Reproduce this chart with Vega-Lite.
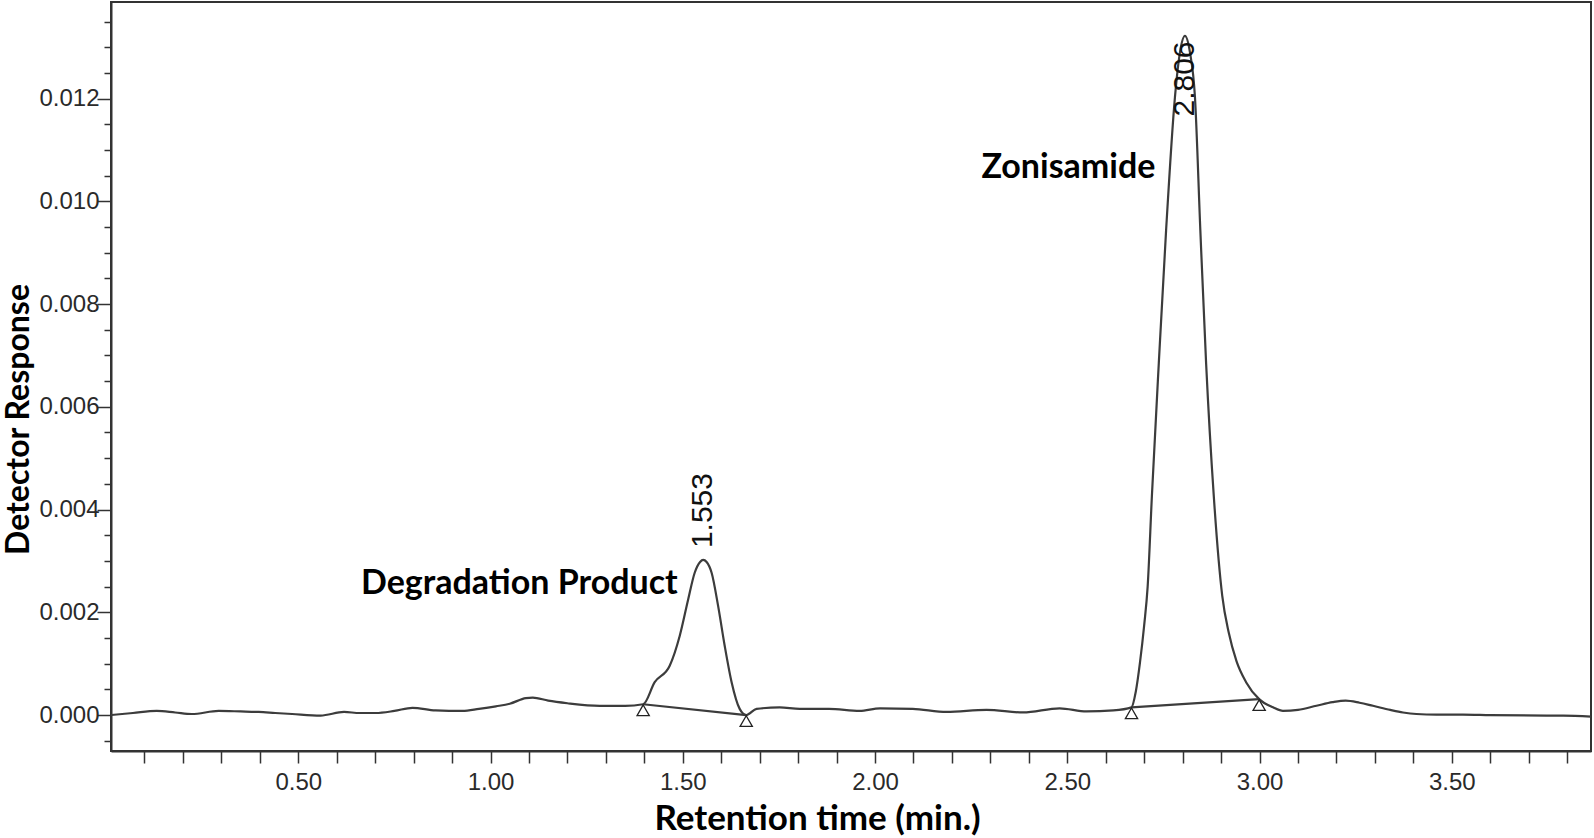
{
  "$schema": "https://vega.github.io/schema/vega-lite/v6.json",
  "width": 1480,
  "height": 749,
  "autosize": {"type": "none"},
  "padding": {"left": 111, "top": 2, "right": 3, "bottom": 87},
  "background": "white",
  "config": {
    "view": {"stroke": "#333333", "strokeWidth": 2},
    "axis": {"domainColor": "#333333", "domainWidth": 2, "tickColor": "#333333", "tickWidth": 1.5, "labelColor": "#2a2a2a", "grid": false}
  },
  "resolve": {"axis": {"x": "independent", "y": "independent"}},
  "datasets": {
    "trace": [
      {"t": 0.013, "v": 0.0, "trace": "signal"},
      {"t": 0.07, "v": 0.00004, "trace": "signal"},
      {"t": 0.132, "v": 0.00008, "trace": "signal"},
      {"t": 0.18, "v": 0.00005, "trace": "signal"},
      {"t": 0.223, "v": 0.00002, "trace": "signal"},
      {"t": 0.293, "v": 0.00008, "trace": "signal"},
      {"t": 0.35, "v": 0.00007, "trace": "signal"},
      {"t": 0.397, "v": 0.00006, "trace": "signal"},
      {"t": 0.44, "v": 0.00004, "trace": "signal"},
      {"t": 0.484, "v": 0.00002, "trace": "signal"},
      {"t": 0.558, "v": -0.00001, "trace": "signal"},
      {"t": 0.619, "v": 0.00006, "trace": "signal"},
      {"t": 0.66, "v": 0.00004, "trace": "signal"},
      {"t": 0.701, "v": 0.00004, "trace": "signal"},
      {"t": 0.75, "v": 0.00008, "trace": "signal"},
      {"t": 0.797, "v": 0.00014, "trace": "signal"},
      {"t": 0.857, "v": 0.00009, "trace": "signal"},
      {"t": 0.927, "v": 0.00008, "trace": "signal"},
      {"t": 0.97, "v": 0.00012, "trace": "signal"},
      {"t": 1.014, "v": 0.00017, "trace": "signal"},
      {"t": 1.05, "v": 0.00022, "trace": "signal"},
      {"t": 1.092, "v": 0.00033, "trace": "signal"},
      {"t": 1.11, "v": 0.00034, "trace": "signal"},
      {"t": 1.15, "v": 0.00028, "trace": "signal"},
      {"t": 1.2, "v": 0.00023, "trace": "signal"},
      {"t": 1.284, "v": 0.00018, "trace": "signal"},
      {"t": 1.35, "v": 0.00018, "trace": "signal"},
      {"t": 1.397, "v": 0.00021, "trace": "signal"},
      {"t": 1.427, "v": 0.00064, "trace": "signal"},
      {"t": 1.466, "v": 0.00096, "trace": "signal"},
      {"t": 1.492, "v": 0.00154, "trace": "signal"},
      {"t": 1.514, "v": 0.00225, "trace": "signal"},
      {"t": 1.531, "v": 0.00277, "trace": "signal"},
      {"t": 1.545, "v": 0.00298, "trace": "signal"},
      {"t": 1.553, "v": 0.00302, "trace": "signal"},
      {"t": 1.562, "v": 0.00298, "trace": "signal"},
      {"t": 1.575, "v": 0.00277, "trace": "signal"},
      {"t": 1.592, "v": 0.00212, "trace": "signal"},
      {"t": 1.609, "v": 0.00135, "trace": "signal"},
      {"t": 1.627, "v": 0.00064, "trace": "signal"},
      {"t": 1.648, "v": 0.00012, "trace": "signal"},
      {"t": 1.665, "v": 0.0, "trace": "signal"},
      {"t": 1.692, "v": 0.00012, "trace": "signal"},
      {"t": 1.752, "v": 0.00015, "trace": "signal"},
      {"t": 1.804, "v": 0.00012, "trace": "signal"},
      {"t": 1.88, "v": 0.00012, "trace": "signal"},
      {"t": 1.96, "v": 0.00008, "trace": "signal"},
      {"t": 2.013, "v": 0.00013, "trace": "signal"},
      {"t": 2.098, "v": 0.00012, "trace": "signal"},
      {"t": 2.186, "v": 0.00006, "trace": "signal"},
      {"t": 2.29, "v": 0.0001, "trace": "signal"},
      {"t": 2.385, "v": 0.00005, "trace": "signal"},
      {"t": 2.48, "v": 0.00013, "trace": "signal"},
      {"t": 2.55, "v": 0.00007, "trace": "signal"},
      {"t": 2.62, "v": 0.00009, "trace": "signal"},
      {"t": 2.667, "v": 0.00015, "trace": "signal"},
      {"t": 2.678, "v": 0.00045, "trace": "signal"},
      {"t": 2.689, "v": 0.00102, "trace": "signal"},
      {"t": 2.7, "v": 0.00175, "trace": "signal"},
      {"t": 2.709, "v": 0.0025, "trace": "signal"},
      {"t": 2.72, "v": 0.00426, "trace": "signal"},
      {"t": 2.738, "v": 0.00685, "trace": "signal"},
      {"t": 2.757, "v": 0.00944, "trace": "signal"},
      {"t": 2.78, "v": 0.01203, "trace": "signal"},
      {"t": 2.793, "v": 0.0129, "trace": "signal"},
      {"t": 2.806, "v": 0.01322, "trace": "signal"},
      {"t": 2.819, "v": 0.0129, "trace": "signal"},
      {"t": 2.832, "v": 0.01203, "trace": "signal"},
      {"t": 2.846, "v": 0.00944, "trace": "signal"},
      {"t": 2.861, "v": 0.00685, "trace": "signal"},
      {"t": 2.881, "v": 0.00426, "trace": "signal"},
      {"t": 2.903, "v": 0.00232, "trace": "signal"},
      {"t": 2.92, "v": 0.0016, "trace": "signal"},
      {"t": 2.94, "v": 0.00105, "trace": "signal"},
      {"t": 2.965, "v": 0.00064, "trace": "signal"},
      {"t": 2.999, "v": 0.00031, "trace": "signal"},
      {"t": 3.035, "v": 0.00015, "trace": "signal"},
      {"t": 3.061, "v": 0.00008, "trace": "signal"},
      {"t": 3.1, "v": 0.0001, "trace": "signal"},
      {"t": 3.148, "v": 0.00018, "trace": "signal"},
      {"t": 3.19, "v": 0.00025, "trace": "signal"},
      {"t": 3.224, "v": 0.00028, "trace": "signal"},
      {"t": 3.26, "v": 0.00024, "trace": "signal"},
      {"t": 3.295, "v": 0.00018, "trace": "signal"},
      {"t": 3.34, "v": 0.0001, "trace": "signal"},
      {"t": 3.373, "v": 0.00005, "trace": "signal"},
      {"t": 3.408, "v": 0.00002, "trace": "signal"},
      {"t": 3.46, "v": 0.00001, "trace": "signal"},
      {"t": 3.529, "v": 0.00001, "trace": "signal"},
      {"t": 3.6, "v": 0.0, "trace": "signal"},
      {"t": 3.746, "v": -0.00001, "trace": "signal"},
      {"t": 3.79, "v": -0.00001, "trace": "signal"},
      {"t": 3.862, "v": -0.00003, "trace": "signal"},
      {"t": 1.397, "v": 0.00021, "trace": "base1"},
      {"t": 1.665, "v": 0.0, "trace": "base1"},
      {"t": 2.667, "v": 0.00015, "trace": "base2"},
      {"t": 2.999, "v": 0.00031, "trace": "base2"}
    ],
    "marks": [
      {"t": 1.397, "v": 0.00021},
      {"t": 1.665, "v": 0.0},
      {"t": 2.667, "v": 0.00015},
      {"t": 2.999, "v": 0.00031}
    ],
    "peaks": [
      {"t": 1.553, "v": 0.00325, "label": "1.553"},
      {"t": 2.806, "v": 0.01165, "label": "2.806"}
    ],
    "names": [
      {"t": 1.075, "v": 0.002545, "label": "Degradation Product"},
      {"t": 2.503, "v": 0.010646, "label": "Zonisamide"}
    ]
  },
  "layer": [
    {
      "data": {"name": "trace"},
      "mark": {"type": "line", "color": "#3c3c3c", "strokeWidth": 2.2, "interpolate": "monotone"},
      "encoding": {
        "x": {
          "field": "t", "type": "quantitative",
          "scale": {"domain": [0.013, 3.862], "nice": false, "zero": false},
          "axis": {
            "orient": "bottom",
            "title": "Retention time (min.)",
            "values": [0.5, 1.0, 1.5, 2.0, 2.5, 3.0, 3.5],
            "format": ".2f",
            "labelOverlap": false,
            "tickSize": 12,
            "labelPadding": 7,
            "labelFont": "Liberation Sans",
            "labelFontSize": 24,
            "labelFlush": false,
            "titleFont": "Lato",
            "titleFontWeight": "bold",
            "titleFontSize": 35,
            "titleColor": "#000000",
            "titleX": 706,
            "titleY": 67,
            "titleBaseline": "middle",
            "titleAlign": "center"
          }
        },
        "y": {
          "field": "v", "type": "quantitative",
          "scale": {"domain": [-0.0007, 0.01388], "nice": false, "zero": false},
          "axis": {
            "orient": "left",
            "title": "Detector Response",
            "values": [0, 0.002, 0.004, 0.006, 0.008, 0.01, 0.012],
            "format": ".3f",
            "labelOverlap": false,
            "tickSize": 14,
            "labelPadding": -2,
            "labelFont": "Liberation Sans",
            "labelFontSize": 24,
            "labelFlush": false,
            "titleFont": "Lato",
            "titleFontWeight": "bold",
            "titleFontSize": 32,
            "titleColor": "#000000",
            "titleAngle": 270,
            "titleX": -93,
            "titleY": 417,
            "titleBaseline": "middle",
            "titleAlign": "center"
          }
        },
        "detail": {"field": "trace"}
      }
    },
    {
      "data": {"name": "marks"},
      "mark": {"type": "point", "shape": "triangle-up", "filled": false, "stroke": "#222222", "strokeWidth": 1.3, "size": 150, "yOffset": 6, "opacity": 1},
      "encoding": {
        "x": {
          "field": "t", "type": "quantitative",
          "axis": {
            "orient": "bottom",
            "title": null,
            "labels": false,
            "domain": false,
            "tickSize": 12,
            "values": [0.1,0.2,0.3,0.4,0.6,0.7,0.8,0.9,1.1,1.2,1.3,1.4,1.6,1.7,1.8,1.9,2.1,2.2,2.3,2.4,2.6,2.7,2.8,2.9,3.1,3.2,3.3,3.4,3.6,3.7,3.8]
          }
        },
        "y": {
          "field": "v", "type": "quantitative",
          "axis": {
            "orient": "left",
            "title": null,
            "labels": false,
            "domain": false,
            "tickSize": 7,
            "values": [-0.0005,0.0005,0.001,0.0015,0.0025,0.003,0.0035,0.0045,0.005,0.0055,0.0065,0.007,0.0075,0.0085,0.009,0.0095,0.0105,0.011,0.0115,0.0125,0.013,0.0135]
          }
        }
      }
    },
    {
      "data": {"name": "peaks"},
      "mark": {"type": "text", "angle": 270, "align": "left", "baseline": "middle", "font": "Liberation Sans", "fontSize": 30, "color": "#111111"},
      "encoding": {
        "x": {"field": "t", "type": "quantitative", "axis": null},
        "y": {"field": "v", "type": "quantitative", "axis": null},
        "text": {"field": "label"}
      }
    },
    {
      "data": {"name": "names"},
      "mark": {"type": "text", "align": "center", "baseline": "middle", "font": "Lato", "fontWeight": "bold", "fontSize": 34, "color": "#000000"},
      "encoding": {
        "x": {"field": "t", "type": "quantitative", "axis": null},
        "y": {"field": "v", "type": "quantitative", "axis": null},
        "text": {"field": "label"}
      }
    }
  ]
}
